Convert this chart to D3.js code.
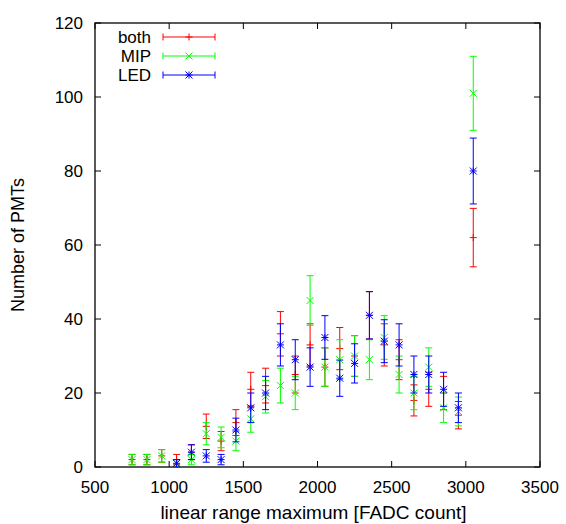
<!DOCTYPE html>
<html><head><meta charset="utf-8">
<script src="https://cdn.jsdelivr.net/npm/d3@7"></script>
<style>body{margin:0;background:#fff}svg{display:block}text{font-family:"Liberation Sans",Arial,sans-serif;fill:#000}</style>
</head><body>
<svg id="c" width="566" height="524"></svg>
<script>
const bins = [750,850,950,1050,1150,1250,1350,1450,1550,1650,1750,1850,1950,2050,2150,2250,2350,2450,2550,2650,2750,2850,2950,3050];
const bothVals = [2,2,3,2,4,11,7,12,21,22,36,25,33,27,32,30,41,33,29,18,21,20,14,62];
const bothErr  = [1.4,1.4,1.7,1.4,2,3.3,2.6,3.5,4.6,4.7,6,5,5.7,5.2,5.7,5.5,6.4,5.7,5.4,4.2,4.6,4.5,3.7,7.9];
const mipVals  = [2,2,3,1,2,9,8,7,13,19,22,20,45,27,29,30,29,35,25,20,27,16,15,101];
const mipErr   = [1.4,1.4,1.7,1,1.4,3,2.8,2.6,3.6,4.4,4.7,4.5,6.7,5.2,5.4,5.5,5.4,5.9,5,4.5,5.2,4,3.9,10];
const ledVals  = [null,null,null,1,4,3,2,10,16,20,33,29,27,35,24,28,41,34,33,25,25,21,16,80];
const ledErr   = [null,null,null,1,2,1.7,1.4,3.2,4,4.5,5.7,5.4,5.2,5.9,4.9,5.3,6.4,5.8,5.7,5,5,4.6,4,8.9];
const xTicks = [500,1000,1500,2000,2500,3000,3500];
const yTicks = [0,20,40,60,80,100,120];
const seriesNames = ["both","MIP","LED"];
const seriesColors = ["#ff0000","#00ff00","#0000ff"];
const seriesMarkers = ["plus","cross","star"];

const svg = d3.select("#c");
const L=95, R=540, T=23, B=467;
const x = d3.scaleLinear().domain([500,3500]).range([L,R]);
const y = d3.scaleLinear().domain([0,120]).range([B,T]);

const tk = 6;
const g = svg.append("g");
xTicks.forEach(v=>{
  g.append("line").attr("x1",x(v)).attr("x2",x(v)).attr("y1",B).attr("y2",B-tk).attr("stroke","#000");
  g.append("line").attr("x1",x(v)).attr("x2",x(v)).attr("y1",T).attr("y2",T+tk).attr("stroke","#000");
  g.append("text").attr("x",x(v)).attr("y",B+26).attr("text-anchor","middle").attr("font-size",17).text(v);
});
yTicks.forEach(v=>{
  g.append("line").attr("x1",L).attr("x2",L+tk).attr("y1",y(v)).attr("y2",y(v)).attr("stroke","#000");
  g.append("line").attr("x1",R).attr("x2",R-tk).attr("y1",y(v)).attr("y2",y(v)).attr("stroke","#000");
  g.append("text").attr("x",L-12).attr("y",y(v)+6).attr("text-anchor","end").attr("font-size",17).text(v);
});
svg.append("rect").attr("x",L).attr("y",T).attr("width",R-L).attr("height",B-T)
  .attr("fill","none").attr("stroke","#000").attr("stroke-width",1.3);

svg.append("text").attr("x",(L+R)/2-4).attr("y",519).attr("text-anchor","middle").attr("font-size",19)
  .text("linear range maximum [FADC count]");
svg.append("text").attr("transform","translate(24,"+((T+B)/2)+") rotate(-90)").attr("text-anchor","middle").attr("font-size",18)
  .text("Number of PMTs");

function marker(sel, type, cx, cy, col){
  const s=3.5;
  const p=[];
  if(type==="plus"||type==="star"){ p.push([cx-s,cy,cx+s,cy],[cx,cy-s,cx,cy+s]); }
  if(type==="cross"||type==="star"){ p.push([cx-s,cy-s,cx+s,cy+s],[cx-s,cy+s,cx+s,cy-s]); }
  p.forEach(a=>sel.append("line").attr("x1",a[0]).attr("y1",a[1]).attr("x2",a[2]).attr("y2",a[3]).attr("stroke",col).attr("stroke-width",1));
}

const allVals=[bothVals,mipVals,ledVals], allErr=[bothErr,mipErr,ledErr];
allVals.forEach((vals,si)=>{
  const col=seriesColors[si];
  const sg=svg.append("g");
  vals.forEach((v,i)=>{
    if(v===null) return;
    const e=allErr[si][i];
    const cx=x(bins[i]), y1=y(v+e), y0=y(Math.max(0,v-e));
    sg.append("line").attr("x1",cx).attr("x2",cx).attr("y1",y1).attr("y2",y0).attr("stroke",col);
    sg.append("line").attr("x1",cx-3.5).attr("x2",cx+3.5).attr("y1",y1).attr("y2",y1).attr("stroke",col);
    sg.append("line").attr("x1",cx-3.5).attr("x2",cx+3.5).attr("y1",y0).attr("y2",y0).attr("stroke",col);
    marker(sg, seriesMarkers[si], cx, y(v), col);
  });
});

seriesNames.forEach((n,i)=>{
  const ly=37+i*19, col=seriesColors[i];
  svg.append("text").attr("x",151).attr("y",ly+6).attr("text-anchor","end").attr("font-size",17).text(n);
  svg.append("line").attr("x1",163).attr("x2",215).attr("y1",ly).attr("y2",ly).attr("stroke",col);
  svg.append("line").attr("x1",163).attr("x2",163).attr("y1",ly-3.5).attr("y2",ly+3.5).attr("stroke",col);
  svg.append("line").attr("x1",215).attr("x2",215).attr("y1",ly-3.5).attr("y2",ly+3.5).attr("stroke",col);
  marker(svg, seriesMarkers[i], 189, ly, col);
});
</script>
</body></html>
